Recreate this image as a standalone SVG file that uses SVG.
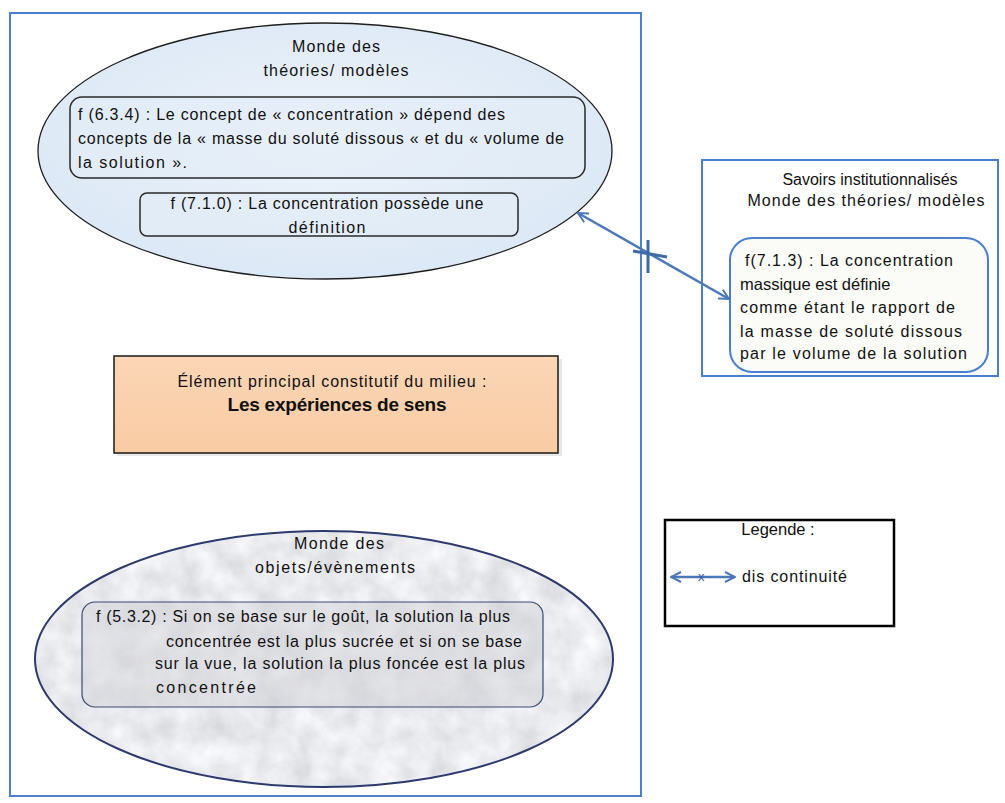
<svg xmlns="http://www.w3.org/2000/svg" width="1005" height="803" viewBox="0 0 1005 803">
<style>
text{font-family:"Liberation Sans","DejaVu Sans",sans-serif;fill:#111;font-size:16px}
.c{text-anchor:middle}
.blue{fill:none;stroke:#4a7fd0;stroke-width:2}
.ibox{stroke:#2a2a2a;stroke-width:1.5}
.conn{fill:none;stroke:#4a78b8;stroke-width:2.5}
</style>
<defs>
<radialGradient id="gBlue" cx="0.5" cy="0.45" r="0.6">
<stop offset="0" stop-color="#eef4fb"/>
<stop offset="1" stop-color="#dae7f5"/>
</radialGradient>
<linearGradient id="gPeach" x1="0" y1="0" x2="0" y2="1">
<stop offset="0" stop-color="#fbd6b6"/>
<stop offset="1" stop-color="#f9cba3"/>
</linearGradient>
<linearGradient id="gBeige" x1="0" y1="0" x2="1" y2="1">
<stop offset="0" stop-color="#eeede3"/>
<stop offset="1" stop-color="#e6e4d6"/>
</linearGradient>
<filter id="marble" x="0" y="0" width="1" height="1">
<feTurbulence type="fractalNoise" baseFrequency="0.035" numOctaves="4" seed="3"/>
<feColorMatrix type="matrix" values="0.4 0 0 0 0.62  0.4 0 0 0 0.63  0.4 0 0 0 0.66  0 0 0 0 1"/>
<feComposite in2="SourceGraphic" operator="in"/>
</filter>
<marker id="ah" viewBox="0 0 12 12" refX="11" refY="6" markerWidth="12" markerHeight="12" markerUnits="userSpaceOnUse" orient="auto-start-reverse">
<path d="M1,1 L11,6 L1,11" fill="none" stroke="#4a78b8" stroke-width="2"/>
</marker>
</defs>

<rect width="1005" height="803" fill="#ffffff"/>

<g id="milieu">
<rect x="10" y="13" width="631" height="783" fill="#fdfdfe" class="blue"/>
</g>

<g id="theories">
<ellipse cx="325" cy="151" rx="287" ry="128" fill="url(#gBlue)" stroke="#1e1e1e" stroke-width="1.3"/>
<text class="c" x="336" y="52" textLength="88" lengthAdjust="spacing">Monde des</text>
<text class="c" x="336" y="76" textLength="145" lengthAdjust="spacing">théories/ modèles</text>
</g>

<g id="f634">
<rect x="70" y="97" width="515" height="81" rx="12" fill="#e2ecf7" fill-opacity="0.6" class="ibox"/>
<text x="78" y="120" textLength="427" lengthAdjust="spacing">f (6.3.4) : Le concept de « concentration » dépend des</text>
<text x="78" y="144" textLength="486" lengthAdjust="spacing">concepts de la « masse du soluté dissous « et du « volume de</text>
<text x="78" y="168" textLength="109" lengthAdjust="spacing">la solution ».</text>
</g>

<g id="f710">
<rect x="140" y="193" width="378" height="43" rx="7" fill="#e2ecf7" fill-opacity="0.6" class="ibox"/>
<text class="c" x="327" y="209" textLength="313" lengthAdjust="spacing">f (7.1.0) : La concentration possède une</text>
<text class="c" x="327" y="233" textLength="77" lengthAdjust="spacing">définition</text>
</g>

<g id="element">
<rect x="117" y="359" width="445" height="97" fill="#d9d9d9" opacity="0.6"/>
<rect x="114" y="356" width="444" height="97" fill="url(#gPeach)" stroke="#1a1a1a" stroke-width="1.5"/>
<text class="c" x="332" y="387" textLength="309" lengthAdjust="spacing">Élément principal constitutif du milieu :</text>
<text class="c" x="337" y="411" style="font-weight:bold;font-size:19px" textLength="219" lengthAdjust="spacing">Les expériences de sens</text>
</g>

<g id="objets">
<ellipse cx="324" cy="659" rx="289" ry="128" fill="#ccc" filter="url(#marble)"/>
<ellipse cx="324" cy="659" rx="289" ry="128" fill="none" stroke="#2d3a6e" stroke-width="2"/>
<text class="c" x="339" y="549" textLength="90" lengthAdjust="spacing">Monde des</text>
<text class="c" x="335" y="573" textLength="160" lengthAdjust="spacing">objets/évènements</text>
</g>

<g id="f532">
<rect x="82" y="602" width="461" height="105" rx="13" fill="#d4d4d8" fill-opacity="0.55" stroke="#3a4a70" stroke-width="1.2"/>
<text x="96" y="622" textLength="414" lengthAdjust="spacing">f (5.3.2) : Si on se base sur le goût, la solution la plus</text>
<text x="166" y="647" textLength="356" lengthAdjust="spacing">concentrée est la plus sucrée et si on se base</text>
<text x="155" y="669" textLength="370" lengthAdjust="spacing">sur la vue, la solution la plus foncée est la plus</text>
<text x="156" y="693" textLength="100" lengthAdjust="spacing">concentrée</text>
</g>

<g id="savoirs">
<rect x="702" y="160" width="296" height="216" fill="url(#gBeige)" class="blue"/>
<text class="c" x="870" y="185">Savoirs institutionnalisés</text>
<text class="c" x="866" y="206" textLength="237" lengthAdjust="spacing">Monde des théories/ modèles</text>
</g>

<g id="f713">
<rect x="730" y="238" width="258" height="134" rx="22" fill="#fbfbf8" stroke="#4a7fd0" stroke-width="2"/>
<text x="745" y="266" textLength="208" lengthAdjust="spacing">f(7.1.3) : La concentration</text>
<text x="740" y="290" style="font-size:16.5px">massique est définie</text>
<text x="740" y="313" textLength="215" lengthAdjust="spacing">comme étant le rapport de</text>
<text x="740" y="337" textLength="222" lengthAdjust="spacing">la masse de soluté dissous</text>
<text x="740" y="359" textLength="227" lengthAdjust="spacing">par le volume de la solution</text>
</g>

<g id="legende">
<rect x="665" y="520" width="229" height="106" fill="#ffffff" stroke="#000" stroke-width="2.5"/>
<text class="c" x="778" y="535" style="font-size:16.5px">Legende :</text>
<line x1="671" y1="577" x2="735" y2="577" class="conn" stroke-width="2" marker-start="url(#ah)" marker-end="url(#ah)"/>
<text x="698" y="581" style="font-size:13px;fill:#3c5a9a">x</text>
<text x="742" y="582" textLength="105" lengthAdjust="spacing">dis continuité</text>
</g>

<g id="connectors">
<line x1="578" y1="213" x2="729" y2="299" class="conn" marker-start="url(#ah)" marker-end="url(#ah)"/>
<line x1="648" y1="240" x2="648" y2="273" stroke="#3f6aa8" stroke-width="3"/>
<line x1="633" y1="251" x2="667" y2="257" stroke="#3f6aa8" stroke-width="3"/>
</g>
</svg>
